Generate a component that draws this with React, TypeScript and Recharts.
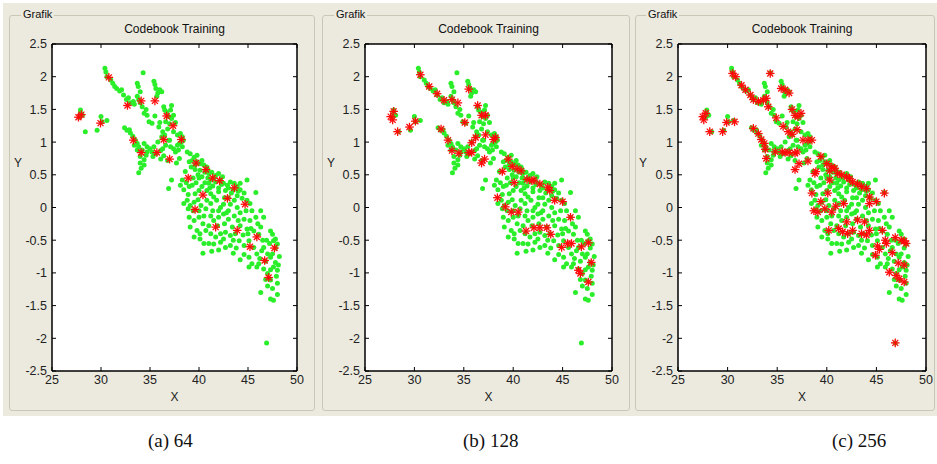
import React from 'react';
import { ScatterChart, Scatter, XAxis, YAxis, ReferenceArea } from 'recharts';

// axis ticks shared by the three panels
const xTicks = [25, 30, 35, 40, 45, 50];
const yTicks = [-2.5, -2, -1.5, -1, -0.5, 0, 0.5, 1, 1.5, 2, 2.5];
const captions = ['(a) 64', '(b) 128', '(c) 256'];

// training vectors (green dots), same in every panel
const samples: [number, number][] = [
  [27.9, 1.49], [27.9, 1.44], [27.8, 1.38], [28.1, 1.41], [28.4, 1.16], [29.6, 1.18], [30.0, 1.39], [30.1, 1.31], [30.6, 1.33],
  [30.4, 2.13], [30.5, 2.07], [30.6, 2.0], [31.0, 1.95], [31.4, 1.85], [31.6, 1.82], [32.1, 1.8], [32.3, 1.72], [32.6, 1.65], [33.0, 1.6], [33.3, 1.62],
  [31.2, 1.9], [31.9, 1.78], [32.8, 1.68], [33.4, 1.58], [34.0, 1.6], [34.6, 1.5],
  [33.7, 1.9], [33.8, 1.85], [34.0, 1.77], [34.3, 2.06], [33.7, 1.7], [33.85, 1.65], [34.2, 1.54], [34.4, 1.44], [34.7, 1.41], [34.9, 1.31], [35.2, 1.29],
  [35.4, 1.93], [35.5, 1.88], [35.6, 1.82], [35.8, 1.75], [35.7, 1.7], [36.0, 1.8], [36.2, 1.77],
  [36.4, 1.54], [36.5, 1.49], [36.7, 1.46], [37.1, 1.49], [37.2, 1.56], [36.9, 1.39], [37.2, 1.36], [37.4, 1.41], [36.6, 1.31], [37.0, 1.28],
  [35.5, 1.4], [36.0, 1.3], [36.8, 1.2], [37.6, 1.3],
  [35.9, 1.23], [36.3, 1.16], [36.5, 1.11], [36.2, 1.08],
  [37.4, 1.16], [37.8, 1.11], [38.1, 1.13], [38.3, 1.08], [38.4, 1.03], [38.0, 0.98], [38.3, 0.93], [37.9, 0.88],
  [36.9, 1.03], [37.1, 0.93], [37.4, 0.9], [37.6, 0.85], [37.0, 1.03], [38.2, 1.0], [37.8, 0.95], [36.6, 0.95], [35.8, 1.0],
  [32.4, 1.22], [32.65, 1.18], [33.0, 1.14], [33.25, 1.09], [33.5, 1.03], [33.7, 0.98], [33.85, 0.93], [32.9, 1.19], [33.4, 0.95],
  [33.7, 0.88], [34.0, 0.78], [34.4, 0.73], [34.0, 0.68], [34.4, 0.65], [33.85, 0.53], [34.2, 0.88], [34.1, 0.6],
  [34.4, 0.98], [34.7, 0.93], [35.0, 0.9], [35.4, 0.93], [34.7, 0.85], [35.2, 0.85], [35.6, 0.82], [36.1, 0.87],
  [34.6, 0.8], [35.3, 0.78], [36.3, 0.9],
  [36.1, 0.74], [36.4, 0.79], [36.8, 0.72], [37.2, 0.42], [36.9, 0.29], [38.0, 0.75], [37.7, 0.68],
  [38.8, 0.85], [39.1, 0.82], [39.5, 0.77], [39.8, 0.8], [39.0, 0.7], [39.6, 0.65], [40.3, 0.72],
  [39.3, 0.72], [39.8, 0.7], [40.1, 0.67], [40.5, 0.65], [40.8, 0.62], [39.2, 0.62], [39.6, 0.58], [38.6, 0.55],
  [40.1, 0.57], [40.6, 0.54], [41.0, 0.52], [41.3, 0.54], [41.7, 0.49], [42.0, 0.52], [42.4, 0.47], [40.9, 0.58], [41.5, 0.45],
  [41.2, 0.42], [41.7, 0.39], [42.2, 0.42], [42.5, 0.37], [42.9, 0.34], [43.2, 0.39], [43.6, 0.37], [43.9, 0.32], [44.2, 0.37],
  [42.3, 0.35], [43.0, 0.3], [43.5, 0.27], [44.0, 0.25],
  [40.3, 0.47], [40.9, 0.45], [41.4, 0.33], [42.0, 0.3], [42.7, 0.26], [43.3, 0.22], [43.9, 0.18], [40.0, 0.45], [39.7, 0.38], [41.0, 0.37],
  [38.7, 0.38], [39.4, 0.45], [39.9, 0.5], [40.6, 0.38], [41.1, 0.3], [42.6, 0.15], [43.0, 0.15],
  [44.2, 0.27], [44.6, 0.22], [44.9, 0.42], [44.4, 0.14], [44.9, 0.11], [45.2, 0.06], [45.8, 0.23],
  [38.3, 0.42], [38.1, 0.34], [38.45, 0.27], [39.0, 0.32], [39.3, 0.34], [38.9, 0.2],
  [38.45, 0.06], [38.8, 0.11], [39.1, 0.03], [39.5, 0.08], [39.9, 0.12], [39.4, -0.05], [40.0, -0.05], [38.9, -0.02],
  [39.6, 0.21], [40.0, 0.26], [40.3, 0.32],
  [40.8, 0.26], [41.2, 0.21], [41.5, 0.16], [41.8, 0.11], [42.0, 0.24],
  [40.8, 0.11], [41.2, 0.06], [40.7, -0.02], [40.2, 0.03], [41.4, -0.05], [42.0, -0.05], [42.8, -0.08],
  [42.2, 0.0], [42.5, 0.05], [43.2, 0.05], [43.6, 0.11], [43.9, 0.0], [43.0, -0.05], [44.8, -0.05],
  [39.0, -0.15], [39.5, -0.2], [40.0, -0.15], [40.5, -0.13],
  [39.1, -0.3], [39.8, -0.35], [40.1, -0.4], [40.7, -0.35], [40.1, -0.48], [40.4, -0.25], [41.0, -0.28], [39.5, -0.45],
  [41.2, -0.13], [41.5, -0.2], [42.0, -0.15], [42.5, -0.1], [43.0, -0.18], [43.6, -0.13], [44.0, -0.2],
  [41.9, -0.28], [42.6, -0.25], [43.4, -0.3],
  [41.2, -0.4], [41.7, -0.45], [42.2, -0.4], [42.7, -0.38], [43.2, -0.43], [43.7, -0.4], [42.5, -0.48], [43.5, -0.5],
  [41.5, -0.56], [42.2, -0.53], [42.7, -0.61], [43.2, -0.58], [42.0, -0.65], [41.0, -0.55], [40.5, -0.55], [43.8, -0.62],
  [40.4, -0.7], [41.3, -0.67], [43.5, -0.7], [44.2, -0.8],
  [44.2, -0.08], [44.6, -0.18], [44.2, -0.28], [44.9, -0.33], [44.5, -0.42], [45.2, -0.2], [45.4, -0.05], [45.3, -0.32], [45.0, -0.4],
  [44.1, -0.51], [44.6, -0.58], [45.1, -0.51], [44.6, -0.72],
  [45.8, -0.15], [46.6, -0.15], [46.0, -0.25], [46.3, -0.05],
  [45.6, -0.36], [46.1, -0.41], [46.3, -0.3], [46.5, -0.5],
  [45.6, -0.61], [45.9, -0.71], [46.4, -0.66], [46.2, -0.78],
  [45.1, -0.76], [45.4, -0.86], [45.1, -0.91], [45.9, -0.91],
  [46.6, -0.61], [47.0, -0.71], [47.3, -0.76], [46.9, -0.5], [46.8, -0.82],
  [47.3, -0.36], [47.5, -0.41], [47.6, -0.51], [47.8, -0.48], [48.0, -0.56], [47.2, -0.55], [47.8, -0.62],
  [47.5, -0.71], [47.8, -0.84], [47.6, -0.91], [48.0, -0.96], [48.1, -0.88], [48.2, -0.75], [47.3, -0.95],
  [46.1, -0.86], [46.6, -0.94], [47.0, -1.01], [47.3, -1.11], [47.0, -1.2], [46.8, -1.1], [47.9, -1.05],
  [48.0, -1.16], [47.5, -1.24], [47.3, -1.4], [47.6, -1.42], [48.0, -1.33],
  [46.3, -1.3], [46.9, -2.07],
];

// codebook vectors (red stars) for 64, 128 and 256 codewords
const codebook64: [number, number][] = [
  [27.7, 1.38], [28.0, 1.42], [29.95, 1.29], [30.8, 1.99], [32.7, 1.56], [34.1, 1.63], [35.5, 1.63], [36.7, 1.4],
  [37.35, 1.25], [33.3, 1.03], [36.4, 1.04], [38.2, 1.04], [34.1, 0.84], [35.7, 0.84], [37.0, 0.74], [39.7, 0.68],
  [40.7, 0.58], [38.9, 0.45], [41.4, 0.45], [42.1, 0.41], [43.6, 0.3], [40.4, 0.19], [42.9, 0.14], [44.7, 0.05],
  [39.6, -0.03], [41.7, -0.3], [43.9, -0.35], [45.9, -0.45], [45.2, -0.6], [47.7, -0.62], [46.7, -0.81], [47.1, -1.07],
];

const codebook128: [number, number][] = [
  [27.6, 1.39], [27.9, 1.47], [27.8, 1.34], [28.3, 1.16], [29.5, 1.23], [30.1, 1.32], [30.6, 2.03], [31.5, 1.85],
  [32.3, 1.74], [33.0, 1.64], [33.8, 1.65], [34.4, 1.6], [32.7, 1.2], [33.4, 1.03], [33.8, 0.87], [34.5, 0.83],
  [35.5, 1.81], [36.4, 1.56], [35.1, 1.3], [36.8, 1.41], [37.2, 1.41], [35.8, 0.99], [36.2, 1.07], [37.2, 1.11],
  [38.0, 1.04], [38.2, 1.07], [35.5, 0.84], [35.8, 0.84], [36.8, 0.68], [37.1, 0.74], [39.5, 0.74], [39.9, 0.63],
  [40.4, 0.59], [40.8, 0.56], [38.9, 0.55], [40.1, 0.38], [41.4, 0.43], [41.9, 0.41], [42.1, 0.42], [42.7, 0.36],
  [43.5, 0.31], [43.7, 0.26], [38.4, 0.15], [39.2, 0.01], [39.8, -0.07], [40.5, -0.07], [44.2, 0.11], [45.0, 0.09],
  [45.8, -0.15], [41.3, -0.36], [42.1, -0.31], [42.7, -0.31], [43.4, -0.31], [43.8, -0.41], [44.9, -0.61], [45.5, -0.55],
  [45.9, -0.55], [46.9, -0.6], [47.6, -0.54], [47.9, -0.84], [46.6, -0.96], [46.8, -1.01], [47.6, -1.14],
];

const codebook256: [number, number][] = [
  [27.5, 1.39], [27.8, 1.44], [27.6, 1.34], [28.2, 1.16], [29.5, 1.16], [29.9, 1.3], [30.7, 1.31], [30.5, 2.05],
  [30.8, 2.0], [31.4, 1.87], [31.8, 1.8], [32.3, 1.72], [32.6, 1.65], [33.1, 1.62], [33.6, 1.64], [33.9, 1.67],
  [34.1, 1.54], [34.3, 2.05], [32.6, 1.21], [33.1, 1.13], [33.4, 1.04], [33.7, 0.98], [33.8, 0.89], [33.9, 0.75],
  [34.8, 0.85], [35.5, 0.85], [35.8, 0.84], [36.2, 0.84], [36.8, 0.83], [34.9, 1.37], [35.6, 1.24], [36.1, 1.16],
  [36.5, 1.12], [35.4, 1.82], [35.8, 1.8], [36.2, 1.75], [36.5, 1.5], [36.8, 1.41], [37.1, 1.39], [37.4, 1.44],
  [37.0, 1.19], [37.6, 1.03], [38.1, 1.03], [38.5, 1.03], [37.0, 0.85], [37.2, 0.67], [36.8, 0.58], [38.1, 0.71],
  [38.8, 0.52], [39.4, 0.78], [40.0, 0.67], [40.5, 0.62], [40.8, 0.6], [40.3, 0.56], [41.1, 0.52], [41.5, 0.5],
  [42.0, 0.47], [42.3, 0.44], [42.6, 0.39], [43.1, 0.36], [43.5, 0.32], [44.0, 0.29], [40.3, 0.42], [38.9, 0.55],
  [38.5, 0.22], [40.1, 0.22], [39.4, 0.09], [38.7, -0.05], [39.1, -0.07], [39.8, -0.02], [40.5, -0.07], [40.9, 0.02],
  [41.7, 0.06], [44.3, 0.16], [44.3, 0.06], [45.0, 0.09], [45.8, 0.22], [40.2, -0.35], [41.2, -0.32], [41.6, -0.37],
  [42.0, -0.22], [42.1, -0.4], [42.6, -0.35], [43.1, -0.19], [43.8, -0.22], [43.5, -0.4], [44.0, -0.42], [44.3, -0.35],
  [45.6, -0.35], [45.9, -0.5], [46.0, -0.55], [45.1, -0.59], [45.3, -0.64], [44.9, -0.73], [46.6, -0.69], [46.9, -0.46],
  [47.5, -0.5], [47.8, -0.51], [48.0, -0.55], [47.2, -0.85], [47.8, -0.88], [46.3, -0.99], [47.0, -1.04], [47.3, -1.09],
  [47.8, -1.14], [46.9, -2.07],
];

const codebooks = [codebook64, codebook128, codebook256];

const toPts = (arr: [number, number][]) => arr.map(([x, y]) => ({ x, y }));

const FONT = '"Liberation Sans", Arial, sans-serif';
const PANEL_BG = '#ECEADF';
const TICK_TXT = { fill: '#222', fontSize: 12.5, fontFamily: FONT };
const noLabel = () => '';

// pixel layout of the three screenshots
const panels = [
  { frameL: 9, frameR: 315, plotL: 52, plotR: 297, grafikX: 23, yLabX: 18 },
  { frameL: 322, frameR: 630, plotL: 365, plotR: 612, grafikX: 336, yLabX: 331 },
  { frameL: 635, frameR: 935, plotL: 678, plotR: 926, grafikX: 648, yLabX: 643 },
];
const captionX = [148, 463, 832];

const PLOT_TOP = 44;
const PLOT_BOTTOM = 371;
const CHART_H = 415;

const GreenDot = (p: any) => <circle cx={p.cx} cy={p.cy} r={2.5} fill="#2aee2a" />;

const RedStar = (p: any) => {
  const { cx, cy } = p;
  const r = 4.3;
  const d = 3;
  return (
    <g stroke="#ff0a0a" strokeWidth={1.3}>
      <line x1={cx - r} y1={cy} x2={cx + r} y2={cy} />
      <line x1={cx} y1={cy - r} x2={cx} y2={cy + r} />
      <line x1={cx - d} y1={cy - d} x2={cx + d} y2={cy + d} />
      <line x1={cx - d} y1={cy + d} x2={cx + d} y2={cy - d} />
    </g>
  );
};

function Panel({ idx }: { idx: number }) {
  const p = panels[idx];
  const plotW = p.plotR - p.plotL;
  const axisW = 52;
  const rightPad = 8;
  const xAxisH = 30;
  return (
    <>
      {/* group box */}
      <div
        style={{
          position: 'absolute',
          left: p.frameL,
          top: 15,
          width: p.frameR - p.frameL,
          height: 396,
          border: '1px solid #c9c8b6',
          borderRadius: 3,
          boxSizing: 'border-box',
        }}
      />
      <div
        style={{
          position: 'absolute',
          left: p.grafikX - 2,
          top: 7,
          padding: '0 2px',
          background: PANEL_BG,
          fontFamily: FONT,
          fontSize: 11,
          color: '#111',
          lineHeight: '14px',
        }}
      >
        Grafik
      </div>
      <div
        style={{
          position: 'absolute',
          left: p.plotL,
          top: 21,
          width: plotW,
          textAlign: 'center',
          fontFamily: FONT,
          fontSize: 12,
          color: '#111',
          lineHeight: '16px',
        }}
      >
        Codebook Training
      </div>
      <div style={{ position: 'absolute', left: p.plotL - axisW, top: 0, width: axisW + plotW + rightPad, height: CHART_H }}>
        <ScatterChart
          width={axisW + plotW + rightPad}
          height={CHART_H}
          margin={{ top: PLOT_TOP - 1, right: rightPad - 1, bottom: CHART_H - PLOT_BOTTOM - xAxisH, left: 0 }}
        >
          {/* white axes box with black outline */}
          <ReferenceArea
            x1={25}
            x2={50}
            y1={-2.5}
            y2={2.5}
            fill="#ffffff"
            fillOpacity={1}
            stroke="#000000"
            strokeWidth={1}
            strokeOpacity={1}
          />
          <XAxis
            dataKey="x"
            type="number"
            domain={[25, 50]}
            ticks={xTicks}
            height={xAxisH}
            stroke="#000"
            tickSize={-4}
            tickMargin={8}
            tick={TICK_TXT}
            interval={0}
          />
          <YAxis
            dataKey="y"
            type="number"
            domain={[-2.5, 2.5]}
            ticks={yTicks}
            width={axisW}
            stroke="#000"
            tickSize={-4}
            tickMargin={9}
            tick={TICK_TXT}
            interval={0}
          />
          <XAxis
            xAxisId="top"
            dataKey="x"
            orientation="top"
            type="number"
            domain={[25, 50]}
            ticks={xTicks}
            height={1}
            tickSize={-4}
            tickFormatter={noLabel}
            interval={0}
            stroke="#000"
          />
          <YAxis
            yAxisId="right"
            dataKey="y"
            orientation="right"
            type="number"
            domain={[-2.5, 2.5]}
            ticks={yTicks}
            width={1}
            tickSize={-4}
            tickFormatter={noLabel}
            interval={0}
            stroke="#000"
          />
          <Scatter
            data={toPts(samples)}
            xAxisId="top"
            yAxisId="right"
            shape={GreenDot}
            isAnimationActive={false}
          />
          <Scatter data={toPts(codebooks[idx])} shape={RedStar} isAnimationActive={false} />
        </ScatterChart>
      </div>
      <div
        style={{
          position: 'absolute',
          left: p.plotL,
          top: 389,
          width: plotW,
          textAlign: 'center',
          fontFamily: FONT,
          fontSize: 12,
          color: '#222',
          lineHeight: '16px',
        }}
      >
        X
      </div>
      <div
        style={{
          position: 'absolute',
          left: p.yLabX - 4,
          top: 155,
          fontFamily: FONT,
          fontSize: 12,
          color: '#222',
          lineHeight: '16px',
        }}
      >
        Y
      </div>
    </>
  );
}

export default function App() {
  return (
    <div
      style={{
        position: 'absolute',
        left: 0,
        top: 0,
        width: 937,
        height: 464,
        background: '#fff',
        overflow: 'hidden',
      }}
    >
      <div style={{ position: 'absolute', left: 3, top: 3, width: 934, height: 413, background: PANEL_BG }} />
      {panels.map((_, i) => (
        <Panel key={i} idx={i} />
      ))}
      {captions.map((c, i) => (
        <div
          key={c}
          style={{
            position: 'absolute',
            left: captionX[i],
            top: 430,
            fontFamily: '"Liberation Serif", "Times New Roman", serif',
            fontSize: 19,
            color: '#111',
            lineHeight: '22px',
            whiteSpace: 'nowrap',
          }}
        >
          {c}
        </div>
      ))}
    </div>
  );
}
